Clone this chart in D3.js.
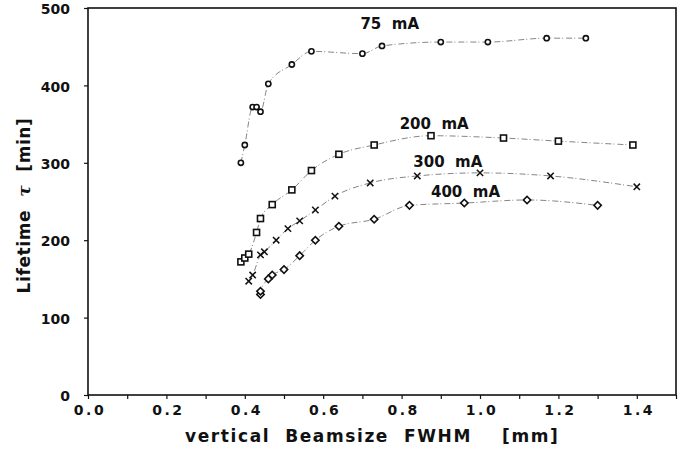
<!DOCTYPE html>
<html>
<head>
<meta charset="utf-8">
<script src="https://cdn.jsdelivr.net/npm/d3@7"></script>
<style>
  body { margin: 0; background: #fff; }
  text { font-family: "DejaVu Sans", sans-serif; font-weight: bold; fill: #111; }
</style>
</head>
<body>
<div id="chart"></div>
<script>
// beamsize [mm] vs lifetime [min] for each beam current
let current75 = [[0.39,300],[0.40,323],[0.42,372],[0.43,372],[0.44,366],[0.46,402],[0.52,427],[0.57,444],[0.70,441],[0.75,451],[0.90,456],[1.02,456],[1.17,461],[1.27,461]];
let current200 = [[0.39,172],[0.40,177],[0.41,182],[0.43,210],[0.44,228],[0.47,246],[0.52,265],[0.57,290],[0.64,311],[0.73,323],[0.875,335],[1.06,332],[1.20,328],[1.39,323]];
let current300 = [[0.41,147],[0.42,155],[0.44,181],[0.45,185],[0.48,200],[0.51,215],[0.54,225],[0.58,239],[0.63,257],[0.72,274],[0.84,283],[1.00,287],[1.18,283],[1.40,269]];
let current400 = [[0.44,130],[0.44,134],[0.46,150],[0.47,155],[0.50,162],[0.54,180],[0.58,200],[0.64,218],[0.73,227],[0.82,245],[0.96,248],[1.12,252],[1.30,245]];

let seriesLabels = ["75  mA", "200  mA", "300  mA", "400  mA"];
let xTicks = [0, 0.2, 0.4, 0.6, 0.8, 1.0, 1.2, 1.4];
let yTicks = [0, 100, 200, 300, 400, 500];

let margin = {top: 8, right: 9, bottom: 56, left: 88};
let width = 685 - margin.left - margin.right;
let height = 451 - margin.top - margin.bottom;

let svg = d3.select("#chart").append("svg")
    .attr("width", 685)
    .attr("height", 451)
    .append("g")
    .attr("transform", "translate(" + margin.left + "," + margin.top + ")");

let x = d3.scaleLinear().domain([0, 1.5]).range([0, width]);
let y = d3.scaleLinear().domain([0, 500]).range([height, 0]);

// bottom axis, minor ticks every 0.1
svg.append("g")
    .attr("transform", `translate(0,${height})`)
    .call(d3.axisBottom(x).tickValues(d3.range(0, 1.51, 0.1)).tickSize(4).tickFormat(""))
    .call(g => g.select(".domain").remove());
svg.append("g")
    .attr("transform", `translate(0,${height})`)
    .call(d3.axisBottom(x).tickValues(xTicks).tickSize(0).tickPadding(10).tickFormat(d3.format(".1f")))
    .call(g => g.select(".domain").remove())
    .selectAll("text")
    .attr("dx", "1.5px")
    .style("font-size", "14px")
    .style("letter-spacing", "2.5px");

// left axis
svg.append("g")
    .call(d3.axisLeft(y).tickValues(yTicks).tickSize(4).tickPadding(14))
    .call(g => g.select(".domain").remove())
    .selectAll("text")
    .attr("dy", "0.4em")
    .style("font-size", "14px");

svg.selectAll(".tick line").attr("stroke", "#111").attr("stroke-width", 1.2);

// frame
svg.append("rect")
    .attr("width", width)
    .attr("height", height)
    .attr("fill", "none")
    .attr("stroke", "#111")
    .attr("stroke-width", 1.6);

// dotted connecting lines
let line = d3.line()
    .x(d => x(d[0]))
    .y(d => y(d[1]))
    .curve(d3.curveMonotoneX);

let allSeries = [current75, current200, current300, current400];
allSeries.forEach(s => {
    svg.append("path")
        .datum(s)
        .attr("d", line)
        .attr("fill", "none")
        .attr("stroke", "#666")
        .attr("stroke-width", 0.8)
        .attr("stroke-dasharray", "6,2,1,3");
});

// markers
svg.selectAll(".m75").data(current75).enter().append("circle")
    .attr("cx", d => x(d[0])).attr("cy", d => y(d[1]))
    .attr("r", 2.6)
    .attr("fill", "#fff").attr("stroke", "#111").attr("stroke-width", 1.6);

svg.selectAll(".m200").data(current200).enter().append("rect")
    .attr("x", d => x(d[0]) - 3).attr("y", d => y(d[1]) - 3)
    .attr("width", 6).attr("height", 6)
    .attr("fill", "#fff").attr("stroke", "#111").attr("stroke-width", 1.6);

let cross = d3.symbol().type(d3.symbolX).size(28);
svg.selectAll(".m300").data(current300).enter().append("path")
    .attr("transform", d => `translate(${x(d[0])},${y(d[1])})`)
    .attr("d", cross)
    .attr("fill", "none").attr("stroke", "#111").attr("stroke-width", 1.5);

svg.selectAll(".m400").data(current400).enter().append("path")
    .attr("transform", d => `translate(${x(d[0])},${y(d[1])}) rotate(45)`)
    .attr("d", "M-2.6,-2.6H2.6V2.6H-2.6Z")
    .attr("fill", "#fff").attr("stroke", "#111").attr("stroke-width", 1.6);

// curve labels
let labelPos = [[0.695, 473], [0.795, 344], [0.83, 294], [0.875, 256]];
svg.selectAll(".curveLabel").data(seriesLabels).enter().append("text")
    .attr("x", (d, i) => x(labelPos[i][0]))
    .attr("y", (d, i) => y(labelPos[i][1]))
    .style("font-size", "15px")
    .style("white-space", "pre")
    .text(d => d);

// axis titles
svg.append("text")
    .attr("x", 97)
    .attr("y", height + 47)
    .style("font-size", "17px")
    .style("letter-spacing", "1.6px")
    .style("white-space", "pre")
    .text("vertical  Beamsize  FWHM    [mm]");

let yTitle = svg.append("text")
    .attr("transform", `translate(-58,${height / 2 + 4}) rotate(-90)`)
    .attr("text-anchor", "middle")
    .style("font-size", "17px")
    .style("letter-spacing", "0.6px")
    .style("white-space", "pre");
yTitle.append("tspan").text("Lifetime  ");
yTitle.append("tspan").style("font-style", "italic").style("font-family", "DejaVu Serif").text("τ");
yTitle.append("tspan").text("  [min]");
</script>
</body>
</html>
